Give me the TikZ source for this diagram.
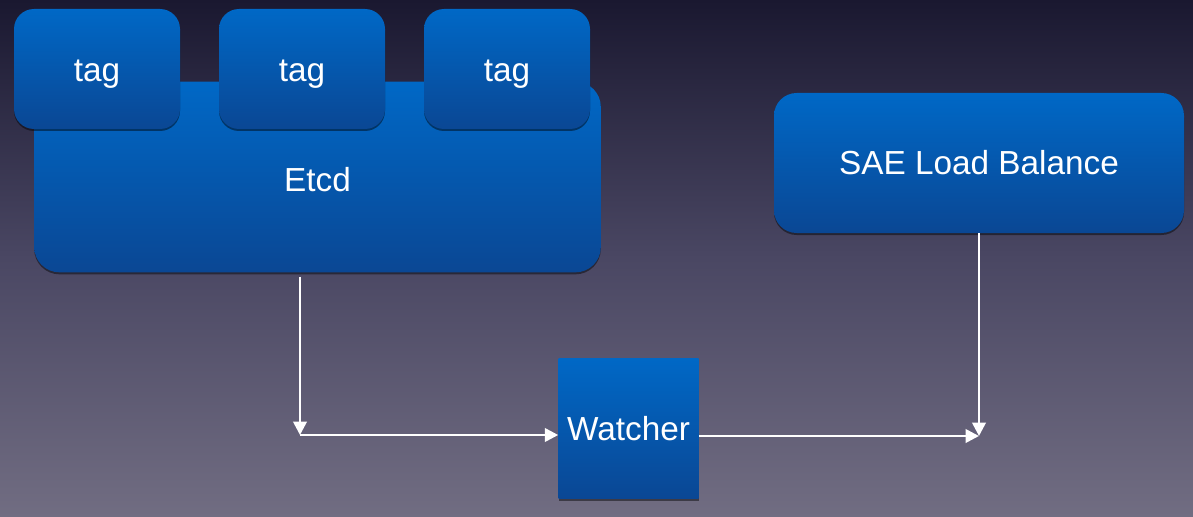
\documentclass[tikz,border=0pt]{standalone}
\usepackage{fontspec}
\setmainfont{Liberation Sans}
\usetikzlibrary{arrows.meta,shadows,calc}
\definecolor{bgtop}{HTML}{1A1830}
\definecolor{bgmid}{HTML}{4A4763}
\definecolor{bgbot}{HTML}{716D82}
\definecolor{boxtop}{HTML}{0068C6}
\definecolor{boxbot}{HTML}{0A4794}
\begin{document}
\begin{tikzpicture}[x=0.75pt,y=-0.75pt,
  box/.style={top color=boxtop,bottom color=boxbot,draw=none,text=white,
    font=\fontsize{25}{30}\selectfont,inner sep=0pt,
    drop shadow={shadow xshift=0pt,shadow yshift=-1.5pt,opacity=0.45,fill=black}},
  tagbox/.style={box,rounded corners=15pt,minimum width=124.5pt,minimum height=90pt,
    text height=19.5pt,text depth=0pt},
  arr/.style={draw=white,line width=2pt,-{Triangle[length=10pt,width=10pt]}}]
\useasboundingbox (0,0) rectangle (1193,517);
\shade[top color=bgtop,bottom color=bgbot,middle color=bgmid] (0,0) rectangle (1193,517);
% Etcd
\node[box,rounded corners=19pt,minimum width=425pt,minimum height=143pt] (etcd) at (317.5,177) {};
\node[text=white,font=\fontsize{25}{30}\selectfont] (etcdlbl) at (317.5,180) {Etcd};
% tags
\node[tagbox] (tag1) at (97,69) {tag};
\node[tagbox] (tag2) at (302,69) {tag};
\node[tagbox] (tag3) at (507,69) {tag};
% SAE
\node[box,rounded corners=17pt,minimum width=307.5pt,minimum height=105pt] (sae) at (979,163) {SAE Load Balance};
% Watcher
\node[box,minimum width=105pt,minimum height=105pt] (watcher) at (628.5,428.5) {Watcher};
% junction points
\coordinate (c1) at (300,435);
\coordinate (c2) at (979,436);
\draw[arr,shorten <=3pt] (etcd.south -| c1) -- (c1);
\draw[arr] (c1) -- (watcher.west |- c1);
\draw[arr] (watcher.east |- c2) -- (c2);
\draw[arr] (sae.south -| c2) -- (c2);
\end{tikzpicture}
\end{document}
